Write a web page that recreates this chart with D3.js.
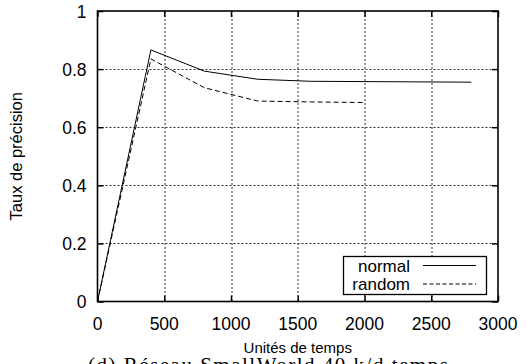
<!DOCTYPE html>
<html>
<head>
<meta charset="utf-8">
<script src="https://cdn.jsdelivr.net/npm/d3@7"></script>
<style>
  body { margin: 0; background: #fff; }
  svg { display: block; }
  .tick-label { font-family: "Liberation Sans", Arial, sans-serif; font-size: 17.5px; fill: #000; }
  .axis-title { font-family: "Liberation Sans", Arial, sans-serif; font-size: 15px; fill: #000; }
  .legend-text { font-family: "Liberation Sans", Arial, sans-serif; font-size: 17px; fill: #000; }
  .caption { font-family: "Liberation Serif", "DejaVu Serif", serif; font-size: 21px; fill: #000; }
</style>
</head>
<body>
<div class="chart"></div>
<script>
/* Data
============================================= */
const timeNormal = [0, 400, 800, 1200, 1600, 2000, 2400, 2800];
const precisionNormal = [0, 0.866, 0.793, 0.765, 0.758, 0.757, 0.756, 0.755];

const timeRandom = [0, 400, 800, 1200, 1600, 2000];
const precisionRandom = [0, 0.835, 0.736, 0.690, 0.687, 0.685];

const xTicks = [0, 500, 1000, 1500, 2000, 2500, 3000];
const yTicks = [0, 0.2, 0.4, 0.6, 0.8, 1];

const seriesNames = ["normal", "random"];

const textX = "Unités de temps";
const textY = "Taux de précision";
const textCaption = "(d) Réseau SmallWorld 40 k/d temps";

/* Layout
============================================= */
const SVG_WIDTH = 526;
const SVG_HEIGHT = 364;

var margin = { top: 11, left: 97.5, right: 28, bottom: 62.5 };
var width = SVG_WIDTH - margin.left - margin.right;
var height = SVG_HEIGHT - margin.top - margin.bottom;

var svg = d3.select(".chart")
    .append("svg")
    .attr("width", SVG_WIDTH)
    .attr("height", SVG_HEIGHT);

var chart = svg.append("g")
    .attr("transform", `translate(${margin.left}, ${margin.top})`);

var xScale = d3.scaleLinear().domain([0, 3000]).range([0, width]);
var yScale = d3.scaleLinear().domain([0, 1]).range([height, 0]);

// grid (dotted)
chart.append("g")
    .selectAll("line")
    .data(xTicks.slice(1, -1))
    .enter()
    .append("line")
    .attr("x1", d => Math.round(xScale(d)) + 0.5)
    .attr("x2", d => Math.round(xScale(d)) + 0.5)
    .attr("y1", 0)
    .attr("y2", height)
    .attr("stroke", "#333")
    .attr("stroke-width", 1)
    .attr("stroke-dasharray", "2,2");

chart.append("g")
    .selectAll("line")
    .data(yTicks.slice(1, -1))
    .enter()
    .append("line")
    .attr("y1", d => Math.round(yScale(d)) + 0.5)
    .attr("y2", d => Math.round(yScale(d)) + 0.5)
    .attr("x1", 0)
    .attr("x2", width)
    .attr("stroke", "#333")
    .attr("stroke-width", 1)
    .attr("stroke-dasharray", "2,2");

// axes: ticks inward, labels drawn separately
var bottomAxis = d3.axisBottom(xScale).tickValues(xTicks).tickSize(-6).tickFormat("");
var topAxis = d3.axisTop(xScale).tickValues(xTicks).tickSize(-6).tickFormat("");
var leftAxis = d3.axisLeft(yScale).tickValues(yTicks).tickSize(-6).tickFormat("");
var rightAxis = d3.axisRight(yScale).tickValues(yTicks).tickSize(-6).tickFormat("");

[[bottomAxis, `translate(0, ${height})`], [topAxis, "translate(0, 0)"],
 [leftAxis, "translate(0, 0)"], [rightAxis, `translate(${width}, 0)`]].forEach(function(a) {
    var g = chart.append("g").attr("transform", a[1]).call(a[0]);
    g.select(".domain").remove();
    g.selectAll("line").attr("stroke", "#000").attr("stroke-width", 1.5);
});

// frame
chart.append("rect")
    .attr("x", 0)
    .attr("y", 0)
    .attr("width", width)
    .attr("height", height)
    .attr("fill", "none")
    .attr("stroke", "#000")
    .attr("stroke-width", 1.6);

// tick labels
chart.append("g")
    .selectAll("text")
    .data(xTicks)
    .enter()
    .append("text")
    .attr("class", "tick-label")
    .attr("x", d => xScale(d))
    .attr("y", height + 28)
    .attr("text-anchor", "middle")
    .text(d => d);

chart.append("g")
    .selectAll("text")
    .data(yTicks)
    .enter()
    .append("text")
    .attr("class", "tick-label")
    .attr("x", -11)
    .attr("y", d => yScale(d) + 6.5)
    .attr("text-anchor", "end")
    .text(d => d);

// axis titles
svg.append("text")
    .attr("class", "axis-title")
    .attr("x", margin.left + width / 2)
    .attr("y", 353)
    .attr("text-anchor", "middle")
    .text(textX);

svg.append("text")
    .attr("class", "axis-title")
    .attr("transform", `translate(22, ${margin.top + height / 2}) rotate(-90)`)
    .attr("text-anchor", "middle")
    .style("font-size", "16.5px")
    .text(textY);

// caption (cut off by the bottom edge)
svg.append("text")
    .attr("class", "caption")
    .attr("x", 88)
    .attr("y", 372)
    .attr("letter-spacing", "1.5")
    .text(textCaption);

// lines
var line = d3.line()
    .x(d => xScale(d[0]))
    .y(d => yScale(d[1]));

chart.append("path")
    .datum(d3.zip(timeNormal, precisionNormal))
    .attr("d", line)
    .attr("fill", "none")
    .attr("stroke", "#000")
    .attr("stroke-width", 1);

chart.append("path")
    .datum(d3.zip(timeRandom, precisionRandom))
    .attr("d", line)
    .attr("fill", "none")
    .attr("stroke", "#000")
    .attr("stroke-width", 1)
    .attr("stroke-dasharray", "5,3");

// legend
var legend = svg.append("g");

legend.append("rect")
    .attr("x", 343.5)
    .attr("y", 256.5)
    .attr("width", 143)
    .attr("height", 38)
    .attr("fill", "#fff")
    .attr("stroke", "#000")
    .attr("stroke-width", 1.3);

seriesNames.forEach(function(name, i) {
    legend.append("text")
        .attr("class", "legend-text")
        .attr("x", 410)
        .attr("y", 272 + i * 18)
        .attr("text-anchor", "end")
        .text(name);

    legend.append("line")
        .attr("x1", 423)
        .attr("x2", 476)
        .attr("y1", 265.5 + i * 18.5)
        .attr("y2", 265.5 + i * 18.5)
        .attr("stroke", "#000")
        .attr("stroke-width", 1)
        .attr("stroke-dasharray", i === 0 ? null : "4,2.5");
});
</script>
</body>
</html>
